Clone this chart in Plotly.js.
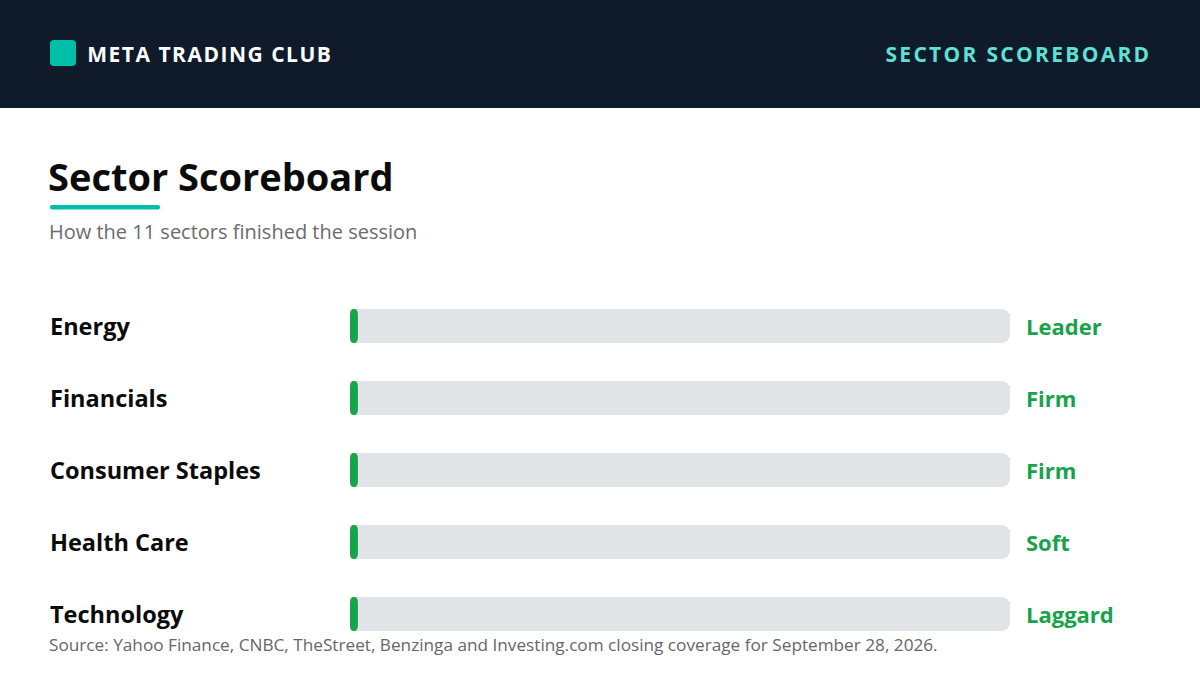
<!DOCTYPE html>
<html>
<head>
<meta charset="utf-8">
<script src="https://cdn.plot.ly/plotly-3.0.1.min.js"></script>
<style>
html,body{margin:0;padding:0;background:#fff}#chart{width:1200px;height:680px}
#chart g.annotation[data-index="10"] text{letter-spacing:1.5px}
#chart g.annotation[data-index="11"] text{letter-spacing:2.3px}
</style>
</head>
<body>
<div id="chart"></div>
<script>
// ---- data ----
const sectors = ["Energy", "Financials", "Consumer Staples", "Health Care", "Technology"];
const scores = [1.2, 1.2, 1.2, 1.2, 1.2];
const trackMax = [100, 100, 100, 100, 100];
const verdicts = ["Leader", "Firm", "Firm", "Soft", "Laggard"];

const W = 1200, H = 680;
const FONT = "'Open Sans', Lato, sans-serif";
const px = x => x / W;
const py = y => 1 - y / H;

function roundRectPath(x0, y0, x1, y1, r) {
  const X = v => px(v).toFixed(5), Y = v => py(v).toFixed(5);
  return `M ${X(x0 + r)} ${Y(y0)} L ${X(x1 - r)} ${Y(y0)} Q ${X(x1)} ${Y(y0)} ${X(x1)} ${Y(y0 + r)} ` +
    `L ${X(x1)} ${Y(y1 - r)} Q ${X(x1)} ${Y(y1)} ${X(x1 - r)} ${Y(y1)} L ${X(x0 + r)} ${Y(y1)} ` +
    `Q ${X(x0)} ${Y(y1)} ${X(x0)} ${Y(y1 - r)} L ${X(x0)} ${Y(y0 + r)} Q ${X(x0)} ${Y(y0)} ${X(x0 + r)} ${Y(y0)} Z`;
}

// pill in data coordinates (x: value axis, y: category index)
function pillPath(v, i, half, ry) {
  const x0 = 0, x1 = v, xm = v / 2, t = i - half, b = i + half;
  return `M ${xm} ${t} Q ${x1} ${t} ${x1} ${t + ry} L ${x1} ${b - ry} Q ${x1} ${b} ${xm} ${b} ` +
    `Q ${x0} ${b} ${x0} ${b - ry} L ${x0} ${t + ry} Q ${x0} ${t} ${xm} ${t} Z`;
}

const traces = [
  {
    type: "bar", orientation: "h", y: sectors, x: trackMax, width: 0.47,
    marker: { color: "#e1e5e8", cornerradius: 8 }, hoverinfo: "skip", showlegend: false
  }
];

const annotations = [];
sectors.forEach((s, i) => {
  annotations.push({
    text: "<b>" + s + "</b>", x: px(48), xref: "paper", xanchor: "left",
    y: s, yref: "y", yanchor: "middle", showarrow: false,
    font: { family: FONT, size: 23.5, color: "#0b0b0b" }
  });
  annotations.push({
    text: "<b>" + verdicts[i] + "</b>", x: px(1024), xref: "paper", xanchor: "left",
    y: s, yref: "y", yanchor: "middle", showarrow: false,
    font: { family: FONT, size: 22, color: "#16a34a" }
  });
});

annotations.push(
  { text: "<b>META TRADING CLUB</b>", x: px(210), xref: "paper", xanchor: "center",
    y: py(54), yref: "paper", yanchor: "middle", showarrow: false,
    font: { family: FONT, size: 21, color: "#ffffff" } },
  { text: "<b>SECTOR SCOREBOARD</b>", x: px(1018), xref: "paper", xanchor: "center",
    y: py(54), yref: "paper", yanchor: "middle", showarrow: false,
    font: { family: FONT, size: 21, color: "#5ee0d3" } },
  { text: "<b>Sector Scoreboard</b>", x: px(46), xref: "paper", xanchor: "left",
    y: py(176), yref: "paper", yanchor: "middle", showarrow: false,
    font: { family: FONT, size: 38, color: "#0b0b0b" } },
  { text: "How the 11 sectors finished the session", x: px(47), xref: "paper", xanchor: "left",
    y: py(231), yref: "paper", yanchor: "middle", showarrow: false,
    font: { family: FONT, size: 20, color: "#6b6b6b" } },
  { text: "Source: Yahoo Finance, CNBC, TheStreet, Benzinga and Investing.com closing coverage for September 28, 2026.",
    x: px(47), xref: "paper", xanchor: "left",
    y: py(644), yref: "paper", yanchor: "middle", showarrow: false,
    font: { family: FONT, size: 17.2, color: "#666666" } }
);

const shapes = [
  { type: "rect", xref: "paper", yref: "paper", x0: 0, x1: 1, y0: py(108), y1: 1,
    fillcolor: "#0f1b2b", line: { width: 0 }, layer: "below" },
  { type: "path", xref: "paper", yref: "paper", path: roundRectPath(50, 40, 76, 66, 4),
    fillcolor: "#00bfa8", line: { width: 0 } },
  { type: "path", xref: "paper", yref: "paper", path: roundRectPath(50, 205, 160, 209.5, 2),
    fillcolor: "#00bfa8", line: { width: 0 } }
];
scores.forEach((v, i) => {
  shapes.push({ type: "path", xref: "x", yref: "y", path: pillPath(v, i, 0.235, 0.08),
    fillcolor: "#16a34a", line: { width: 0 }, layer: "above" });
});

const layout = {
  width: W, height: H,
  margin: { l: 0, r: 0, t: 0, b: 0 },
  paper_bgcolor: "#ffffff", plot_bgcolor: "rgba(0,0,0,0)",
  barmode: "overlay", bargap: 0,
  xaxis: { domain: [px(350), px(1010)], range: [0, 100], visible: false, fixedrange: true },
  yaxis: { domain: [py(650), py(290)], categoryorder: "array", categoryarray: sectors,
    range: [4.5, -0.5], visible: false, fixedrange: true },
  shapes: shapes, annotations: annotations, showlegend: false,
  font: { family: FONT }
};

Plotly.newPlot("chart", traces, layout, { displayModeBar: false, staticPlot: true });
</script>
</body>
</html>
